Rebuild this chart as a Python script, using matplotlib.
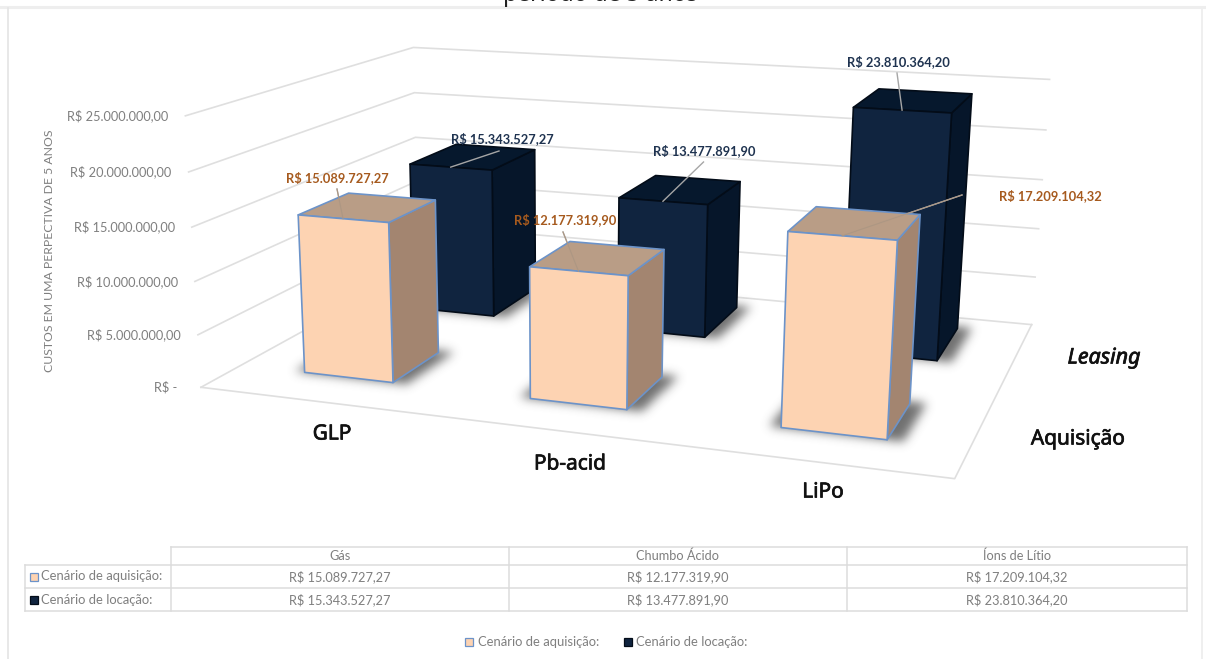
#!/usr/bin/env python3
import numpy as np
import matplotlib
matplotlib.use("Agg")
import matplotlib.pyplot as plt
import matplotlib.patheffects as pe
from matplotlib.path import Path

""" values in R$ """
techs = ["GLP", "Pb-acid", "LiPo"]
techs_table = ["Gás", "Chumbo Ácido", "Íons de Lítio"]
scenarios = ["Cenário de aquisição:", "Cenário de locação:"]
scenario_axis = ["Aquisição", "Leasing"]
aquisicao = [15089727.27, 12177319.90, 17209104.32]
locacao = [15343527.27, 13477891.90, 23810364.20]
y_ticks = [0, 5000000, 10000000, 15000000, 20000000, 25000000]
y_title = "CUSTOS EM UMA PERPECTIVA DE 5 ANOS"

PEACH = ("#FDD3B2", "#A38570", "#B99D86", "#6C93C9")
NAVY = ("#10243F", "#06162A", "#06182D", "#030C18")
GRID = "#DFDFDF"
GRAY = "#7F7F7F"
SMALL = "Lato"
BIG = "Noto Sans"
W, H = 1206, 659


def brl(v):
    """ 15089727.27 -> R$ 15.089.727,27 """
    if v == 0:
        return "R$ -"
    s = f"{v:,.2f}".replace(",", "_").replace(".", ",").replace("_", ".")
    return "R$ " + s


""" fit a pinhole projection: x = category, y = series depth, z = value """
world = np.array([[0, 0, 0], [0, 0, 25], [0, 2, 0], [0, 2, 25],
                  [3, 2, 0], [3, 2, 25], [3, 0, 0]], float)
pix = np.array([[202, 385], [184, 117], [417, 270], [415, 46],
                [1032, 323], [1049, 80], [955, 480]], float)
A = []
b = []
for (X, Y, Z), (u, v) in zip(world, pix):
    A.append([X, Y, Z, 1, 0, 0, 0, 0, -u * X, -u * Y, -u * Z])
    A.append([0, 0, 0, 0, X, Y, Z, 1, -v * X, -v * Y, -v * Z])
    b += [u, v]
P = np.linalg.lstsq(np.array(A), np.array(b), rcond=None)[0]
P = np.append(P, 1.0).reshape(3, 4)


def project(x, y, value):
    h = P @ np.array([x, y, value / 1e6, 1.0])
    return h[0] / h[2], h[1] / h[2]


fig = plt.figure(figsize=(12.06, 6.59), dpi=100)
ax = fig.add_axes([0, 0, 1, 1])
ax.set_xlim(0, W)
ax.set_ylim(H, 0)
ax.axis("off")

""" card behind the chart """
ax.plot([0, W], [7, 7], color="#EEEEEE", lw=2.2)
ax.plot([7.5, 7.5], [8, H], color="#E6E6E6", lw=1.3)
ax.plot([1202, 1202], [8, H], color="#EEEEEE", lw=1.3)
ax.text(600, 1, "período de 5 anos", fontsize=16.5, family=BIG, ha="center", va="baseline", color="#222222")

""" walls and floor """
for v in y_ticks:
    a = project(0, 0, v)
    c = project(0, 2, v)
    d = project(3, 2, v)
    ax.plot([a[0], c[0], d[0]], [a[1], c[1], d[1]], color=GRID, lw=1.2, zorder=1, solid_joinstyle="miter")
    ax.text(a[0] - (24 if v == 0 else 17), a[1], brl(v), fontsize=9.2, family=SMALL, color=GRAY, ha="right", va="center")
f0 = project(0, 0, 0)
f1 = project(3, 0, 0)
f2 = project(3, 2, 0)
ax.plot([f0[0], f1[0], f2[0]], [f0[1], f1[1], f2[1]], color=GRID, lw=1.2, zorder=1)
ax.text(50, 251, y_title, rotation=90, fontsize=8.8, family=SMALL, color=GRAY, ha="center", va="center")

""" bar footprint in world units, series 0 in front """
bar_x0 = [0.295, 1.29, 2.30]
bar_w = 0.40
bar_y0 = [0.31, 1.33]
bar_d = [0.43, 0.50]


def blur(img, sigma):
    r = int(3 * sigma)
    k = np.exp(-0.5 * (np.arange(-r, r + 1) / sigma) ** 2)
    k /= k.sum()
    img = np.apply_along_axis(lambda m: np.convolve(m, k, mode="same"), 0, img)
    return np.apply_along_axis(lambda m: np.convolve(m, k, mode="same"), 1, img)


def draw_shadow(i, j, z):
    x0 = bar_x0[i] - 0.045
    x1 = bar_x0[i] + bar_w + 0.06
    y0 = bar_y0[j]
    y1 = bar_y0[j] + bar_d[j] + 0.03
    poly = [project(x0, y0, 0), project(x1, y0, 0), project(x1, y1, 0), project(x0, y1, 0)]
    gx, gy = np.meshgrid(np.arange(W) + 0.5, np.arange(H) + 0.5)
    mask = Path(poly).contains_points(np.c_[gx.ravel(), gy.ravel()]).reshape(H, W).astype(float)
    mask = blur(mask, 5.0)
    rgba = np.zeros((H, W, 4))
    rgba[..., :3] = 0.3
    rgba[..., 3] = 0.8 * mask
    ax.imshow(rgba, extent=(0, W, H, 0), zorder=z, interpolation="bilinear", aspect="auto")


def draw_bar(i, j, value, cols, z):
    x0 = bar_x0[i]
    x1 = x0 + bar_w
    y0 = bar_y0[j]
    y1 = y0 + bar_d[j]
    front, side, top, edge = cols
    draw_shadow(i, j, z)
    faces = [
        ([(x1, y0, 0), (x1, y1, 0), (x1, y1, value), (x1, y0, value)], side),
        ([(x0, y0, value), (x1, y0, value), (x1, y1, value), (x0, y1, value)], top),
        ([(x0, y0, 0), (x1, y0, 0), (x1, y0, value), (x0, y0, value)], front),
    ]
    for pts, col in faces:
        px, py = zip(*[project(*p) for p in pts])
        ax.fill(px, py, facecolor=col, edgecolor=edge, lw=1.2, zorder=z + 0.1, joinstyle="round")


for i, v in enumerate(locacao):
    draw_bar(i, 1, v, NAVY, 3 + i)
for i, v in enumerate(aquisicao):
    draw_bar(i, 0, v, PEACH, 7 + i)

""" value labels with leader lines """
lab_aq = [(337, 178), (565, 220), (1050, 196)]
lab_lo = [(502, 139), (704, 151), (898, 62)]
lead_aq = [(337, 189), (563, 232), (962, 195)]
lead_lo = [(499, 151), (703.5, 162), (897, 73)]
for i in range(3):
    for j, (vals, labs, leads, colr) in enumerate([
            (aquisicao, lab_aq, lead_aq, "#A65A1E"),
            (locacao, lab_lo, lead_lo, "#1F3350")]):
        e = project(bar_x0[i] + bar_w / 2, bar_y0[j], vals[i])
        if j == 0:
            # full line runs under the peach bars, only a trace shows on their tops
            ax.plot([leads[i][0], e[0]], [leads[i][1], e[1]], color="#ABABAB", lw=1.0, zorder=6.5)
            ax.plot([leads[i][0], e[0]], [leads[i][1], e[1]], color="#AD9783", lw=0.8, zorder=11)
        else:
            ax.plot([leads[i][0], e[0]], [leads[i][1], e[1]], color="#A6A6A6", lw=1.0, zorder=6.5)
        ax.text(labs[i][0], labs[i][1], brl(vals[i]), fontsize=9.3, family=SMALL, weight="bold", color=colr, ha="center", va="center", zorder=13)

""" category and series names """
heavy = [pe.withStroke(linewidth=0.5, foreground="#111111")]
for name, x, y in zip(techs, [332, 570, 823], [434, 464, 492]):
    ax.text(x, y, name, fontsize=15, family=BIG, color="#111111", ha="center", va="center", path_effects=heavy)
ax.text(1078, 439, scenario_axis[0], fontsize=15, family=BIG, color="#111111", ha="center", va="center", path_effects=heavy)
ax.text(1104, 358, scenario_axis[1], fontsize=15.5, family=BIG, style="italic", color="#111111", ha="center", va="center", path_effects=heavy)

""" data table """
col_x = [24.5, 170.5, 508.5, 847, 1186.5]
row_y = [547, 565, 588, 611]
T = "#DCDCDC"
ax.plot([col_x[1], col_x[4]], [row_y[0], row_y[0]], color=T, lw=1.1)
for y in row_y[1:]:
    ax.plot([col_x[0], col_x[4]], [y, y], color=T, lw=1.1)
ax.plot([col_x[0], col_x[0]], [row_y[1], row_y[3]], color=T, lw=1.1)
for x in col_x[1:]:
    ax.plot([x, x], [row_y[0], row_y[3]], color=T, lw=1.1)
for k in range(3):
    xc = (col_x[k + 1] + col_x[k + 2]) / 2
    ax.text(xc, 556, techs_table[k], fontsize=9.2, family=SMALL, color=GRAY, ha="center", va="center")
    ax.text(xc, 576.5, brl(aquisicao[k]), fontsize=9.2, family=SMALL, color=GRAY, ha="center", va="center")
    ax.text(xc, 599.5, brl(locacao[k]), fontsize=9.2, family=SMALL, color=GRAY, ha="center", va="center")


def swatch(x, y, cols):
    ax.fill([x, x + 8, x + 8, x], [y - 4, y - 4, y + 4, y + 4], facecolor=cols[0], edgecolor=cols[3], lw=0.9)


swatch(30, 576.5, PEACH)
swatch(30, 599.5, NAVY)
ax.text(41, 576.5, scenarios[0], fontsize=9.4, family=SMALL, color=GRAY, va="center")
ax.text(41, 599.5, scenarios[1], fontsize=9.4, family=SMALL, color=GRAY, va="center")

""" legend """
swatch(465, 642, PEACH)
ax.text(478, 642, scenarios[0], fontsize=9.4, family=SMALL, color=GRAY, va="center")
swatch(624, 642, NAVY)
ax.text(636, 642, scenarios[1], fontsize=9.4, family=SMALL, color=GRAY, va="center")

ax.set_xlim(0, W)
ax.set_ylim(H, 0)
fig.savefig("out.png", dpi=100)
